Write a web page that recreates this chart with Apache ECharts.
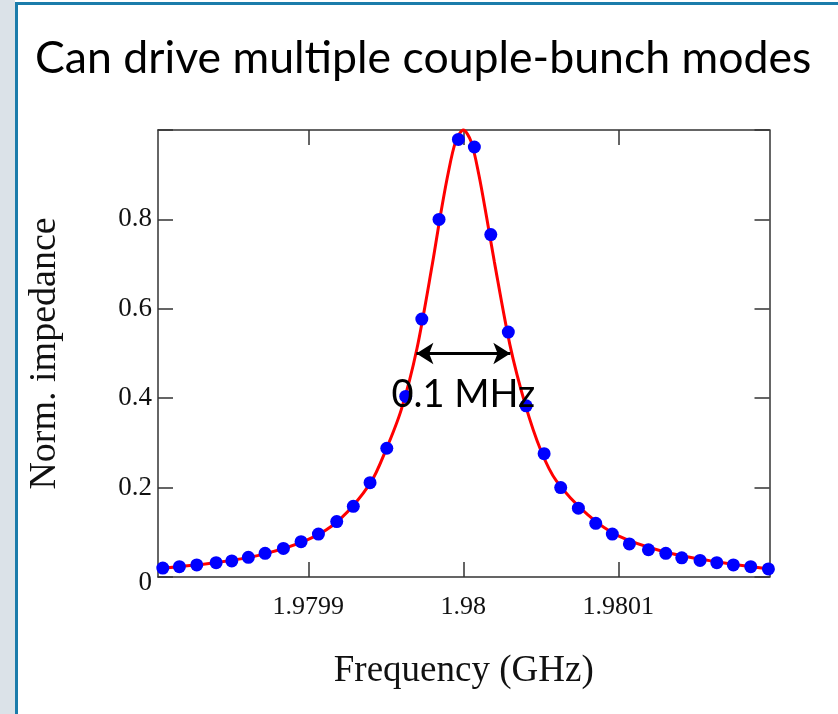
<!DOCTYPE html>
<html>
<head>
<meta charset="utf-8">
<script src="https://cdn.jsdelivr.net/npm/echarts@6/dist/echarts.min.js"></script>
<style>
html,body{margin:0;padding:0;background:#fff;}
#chart{width:838px;height:714px;}
</style>
</head>
<body>
<div id="chart"></div>
<script>
// Sampled points (blue dots): frequency in GHz, normalized impedance
var freq = [1.9798061,1.9798168,1.9798280,1.9798405,1.9798506,1.9798613,1.9798721,1.9798839,
            1.9798953,1.9799065,1.9799183,1.9799290,1.9799398,1.9799506,1.9799628,1.9799732,
            1.9799843,1.9799968,1.9800071,1.9800177,1.9800290,1.9800405,1.9800521,1.9800628,
            1.9800742,1.9800854,1.9800961,1.9801071,1.9801194,1.9801306,1.9801409,1.9801527,
            1.9801635,1.9801742,1.9801854,1.9801968];
var impedance = [0.020,0.023,0.027,0.032,0.036,0.044,0.053,0.064,
                 0.079,0.096,0.124,0.158,0.211,0.288,0.404,0.577,
                 0.800,0.979,0.962,0.766,0.548,0.383,0.276,0.200,
                 0.154,0.120,0.096,0.074,0.061,0.053,0.043,0.037,
                 0.032,0.027,0.023,0.018];
// Resonance curve (red line)
var curveFreq = [1.9798030,1.9798400,1.9798700,1.9799000,1.9799200,1.9799400,1.9799500,1.9799600,
                 1.9799700,1.9799800,1.9799850,1.9799900,1.9799950,1.9800000,1.9800050,1.9800100,
                 1.9800150,1.9800200,1.9800300,1.9800400,1.9800500,1.9800600,1.9800800,1.9801000,
                 1.9801300,1.9801600,1.9801975];
var curveImp = [0.019,0.032,0.050,0.084,0.128,0.210,0.284,0.375,
                0.510,0.700,0.805,0.900,0.974,1.000,0.974,0.900,
                0.805,0.705,0.520,0.385,0.283,0.215,0.140,0.092,
                0.056,0.036,0.018];
var xTickValues = [1.9799, 1.98, 1.9801];
var xTickLabels = ['1.9799', '1.98', '1.9801'];
var yTickLabels = ['0', '0.2', '0.4', '0.6', '0.8', ''];
// Half-power width annotation
var fwhmStart = 1.9799697, fwhmEnd = 1.9800303, fwhmLevel = 0.5;
var fwhmText = '0.1 MHz';
var titleText = 'Can drive multiple couple-bunch modes';

var serif = '"Liberation Serif", "DejaVu Serif", serif';
var chart = echarts.init(document.getElementById('chart'));
var xMin = 1.979803, xMax = 1.9801975;

function pairs(a, b) { return a.map(function (v, i) { return [v, b[i]]; }); }

var axisLineStyle = { color: '#333', width: 1.5 };
var option = {
  animation: false,
  backgroundColor: '#ffffff',
  title: {
    text: titleText,
    left: 30, top: 31,
    textStyle: { fontFamily: 'Lato, "Open Sans", sans-serif', fontSize: 44.6, fontWeight: 'normal', color: '#000' }
  },
  graphic: [
    { type: 'rect', shape: { x: 0, y: 0, width: 15, height: 714 }, style: { fill: '#dbe2e8' }, silent: true },
    { type: 'rect', shape: { x: 15, y: 2, width: 3, height: 712 }, style: { fill: '#1b7cab' }, silent: true },
    { type: 'rect', shape: { x: 15, y: 2, width: 823, height: 3 }, style: { fill: '#1b7cab' }, silent: true }
  ],
  grid: { left: 158, top: 130, right: 68.5, bottom: 137 },
  xAxis: [
    {
      type: 'value', min: xMin, max: xMax, position: 'bottom',
      name: 'Frequency (GHz)', nameLocation: 'middle', nameGap: 76,
      nameTextStyle: { fontFamily: serif, fontSize: 37, color: '#111' },
      axisLine: { show: true, onZero: false, lineStyle: axisLineStyle },
      axisTick: { show: true, inside: true, length: 15, customValues: xTickValues, lineStyle: axisLineStyle },
      axisLabel: {
        customValues: xTickValues, margin: 17,
        fontFamily: serif, fontSize: 26, color: '#111',
        formatter: function (v) {
          for (var i = 0; i < xTickValues.length; i++) if (Math.abs(v - xTickValues[i]) < 1e-9) return xTickLabels[i];
          return '';
        }
      },
      splitLine: { show: false }
    },
    {
      type: 'value', min: xMin, max: xMax, position: 'top',
      axisLine: { show: true, onZero: false, lineStyle: axisLineStyle },
      axisTick: { show: true, inside: true, length: 15, customValues: xTickValues, lineStyle: axisLineStyle },
      axisLabel: { show: false },
      splitLine: { show: false }
    }
  ],
  yAxis: [
    {
      type: 'value', min: 0, max: 1, interval: 0.2, position: 'left',
      name: 'Norm. impedance', nameLocation: 'middle', nameGap: 94, nameRotate: 90,
      nameTextStyle: { fontFamily: serif, fontSize: 38, color: '#111' },
      axisLine: { show: true, onZero: false, lineStyle: axisLineStyle },
      axisTick: { show: true, inside: true, length: 15, lineStyle: axisLineStyle },
      axisLabel: {
        margin: 6, fontFamily: serif, fontSize: 27, color: '#111',
        formatter: function (v) {
          var idx = Math.round(v / 0.2);
          if (idx === 0) return '{z|' + yTickLabels[0] + '}';
          return yTickLabels[idx];
        },
        rich: { z: { fontFamily: serif, fontSize: 27, color: '#111', padding: [12, 0, 0, 0] } }
      },
      splitLine: { show: false }
    },
    {
      type: 'value', min: 0, max: 1, interval: 0.2, position: 'right',
      axisLine: { show: true, onZero: false, lineStyle: axisLineStyle },
      axisTick: { show: true, inside: true, length: 15, lineStyle: axisLineStyle },
      axisLabel: { show: false },
      splitLine: { show: false }
    }
  ],
  series: [
    {
      type: 'line', xAxisIndex: 0, yAxisIndex: 0,
      data: pairs(curveFreq, curveImp),
      smooth: 0.3, showSymbol: false, symbol: 'none',
      lineStyle: { color: '#ff0000', width: 3 },
      clip: false, z: 2
    },
    {
      type: 'scatter', xAxisIndex: 0, yAxisIndex: 0,
      data: pairs(freq, impedance),
      symbol: 'circle', symbolSize: 13,
      itemStyle: { color: '#0000ff', opacity: 1 },
      clip: false, z: 3,
      markLine: {
        silent: true,
        symbol: ['arrow', 'arrow'], symbolSize: [16, 17],
        lineStyle: { color: '#000', width: 3, type: 'solid' },
        label: {
          show: true, position: 'insideMiddleBottom', distance: 22,
          formatter: fwhmText,
          fontFamily: 'Lato, "Open Sans", sans-serif', fontSize: 38, color: '#000'
        },
        data: [[ { coord: [fwhmStart, fwhmLevel] }, { coord: [fwhmEnd, fwhmLevel] } ]]
      }
    }
  ]
};
chart.setOption(option);
</script>
</body>
</html>
